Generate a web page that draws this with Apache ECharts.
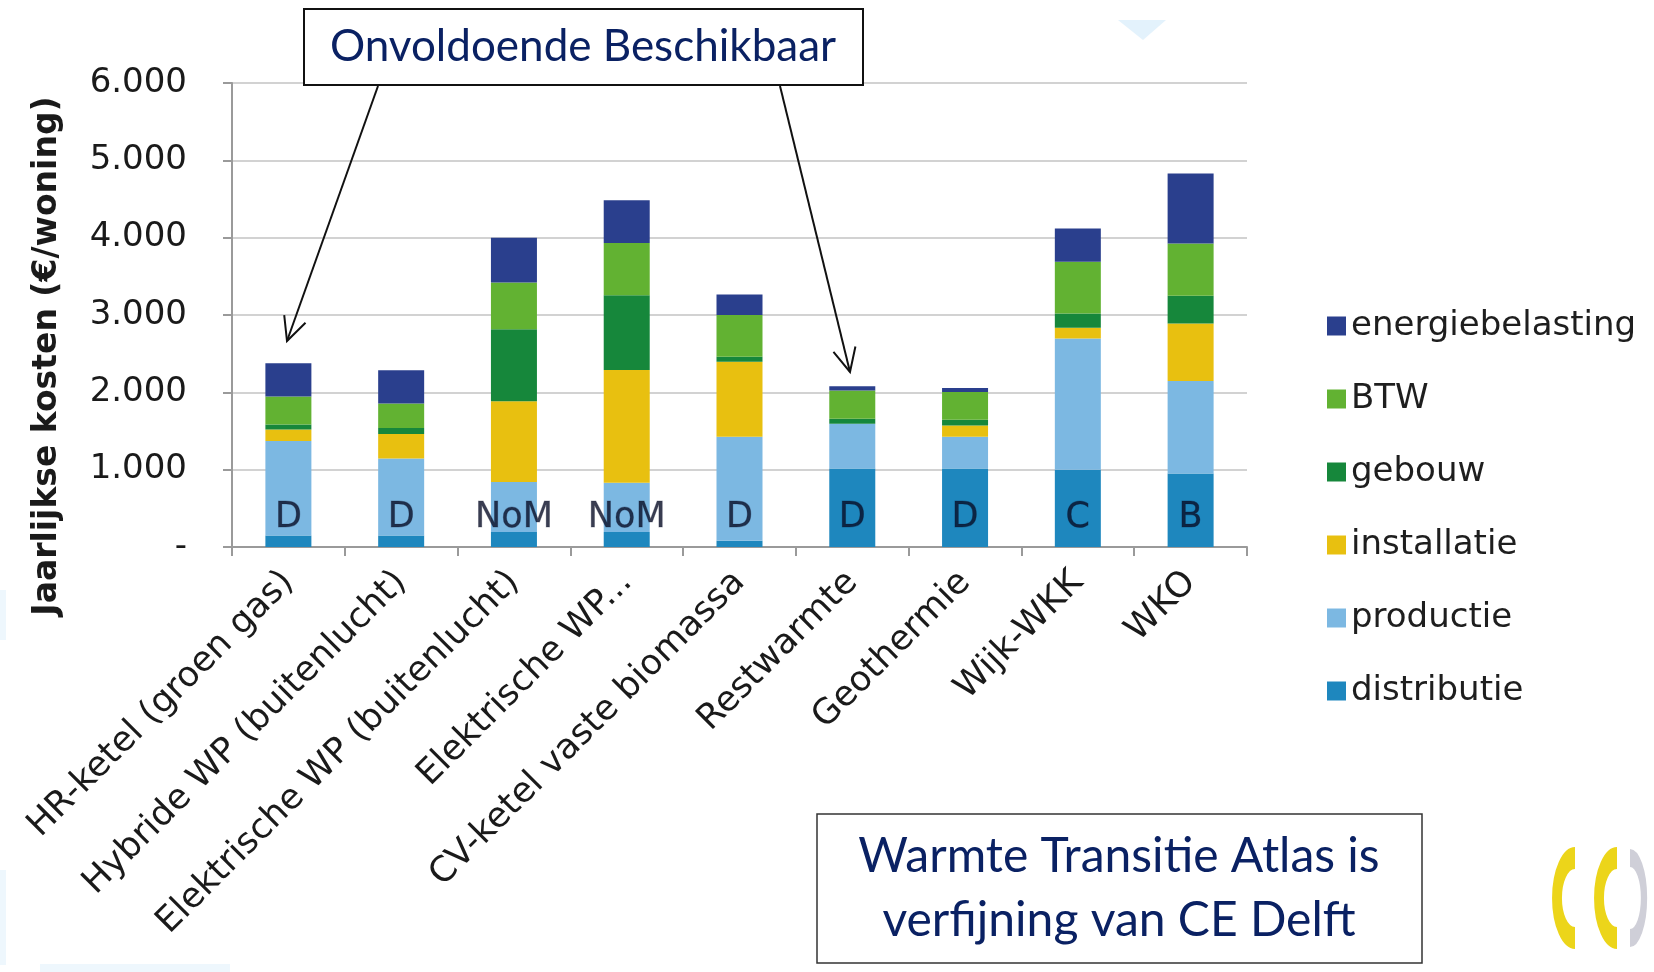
<!DOCTYPE html>
<html>
<head>
<meta charset="utf-8">
<script src="https://cdn.jsdelivr.net/npm/echarts@6/dist/echarts.min.js"></script>
<style>html,body{margin:0;padding:0;background:#fff}#c{width:1654px;height:972px}</style>
</head>
<body>
<div id="c"></div>
<script>
const categories = ['HR-ketel (groen gas)','Hybride WP (buitenlucht)','Elektrische WP (buitenlucht)','Elektrische WP...','CV-ketel vaste biomassa','Restwarmte','Geothermie','Wijk-WKK','WKO'];
const distributie      = [150, 150, 195, 195,   80, 1015, 1015, 1000,  950];
const productie        = [1220, 995, 645, 635, 1345, 580,  410, 1695, 1195];
const installatie      = [150, 315, 1045, 1460, 970,   0,  145,  140,  745];
const gebouw           = [65,   80,  930,  965,  65,  65,   75,  185,  360];
const btw              = [360, 315,  605,  675, 540, 365,  360,  670,  675];
const energiebelasting = [430, 430,  580,  555, 265,  55,   50,  430,  905];
const ratingLabels = ['D','D','NoM','NoM','D','D','D','C','B'];
const yTicks = [0, 1000, 2000, 3000, 4000, 5000, 6000];

const colors = {
  distributie: '#1e87be', productie: '#7cb8e2', installatie: '#e8c010',
  gebouw: '#16873b', BTW: '#62b232', energiebelasting: '#2a3f8d'
};
const labelY = 375;
const baseFont = 'DejaVu Sans';

const chart = echarts.init(document.getElementById('c'));
function mk(name, data) {
  return { name, type: 'bar', stack: 'tot', data, barWidth: 46,
    itemStyle: { color: colors[name] }, emphasis: { disabled: true } };
}
const fmt = v => v === 0 ? '-' : (v / 1000).toFixed(0) + '.' + String(v % 1000).padStart(3, '0');

chart.setOption({
  animation: false,
  backgroundColor: '#fff',
  grid: { left: 232, right: 407, top: 83, bottom: 425, containLabel: false },
  legend: {
    orient: 'vertical', left: 1322, top: 304, itemWidth: 19, itemHeight: 19, itemGap: 39,
    icon: 'rect',
    data: ['energiebelasting','BTW','gebouw','installatie','productie','distributie'],
    textStyle: { fontFamily: baseFont, fontSize: 34, color: '#1e1e1e', padding: [0,0,0,0] },
    selectedMode: false
  },
  xAxis: {
    type: 'category', data: categories,
    axisLine: { lineStyle: { color: '#9a9a9a', width: 2 } },
    axisTick: { show: true, length: 9, lineStyle: { color: '#9a9a9a', width: 2 } },
    axisLabel: { rotate: 45, interval: 0, margin: 30, fontFamily: baseFont, fontSize: 35, color: '#1a1a1a' }
  },
  yAxis: {
    type: 'value', min: 0, max: 6000, interval: 1000,
    axisLine: { show: true, lineStyle: { color: '#9a9a9a', width: 2 } },
    axisTick: { show: true, length: 9, lineStyle: { color: '#9a9a9a', width: 2 } },
    splitLine: { lineStyle: { color: '#d2d2d2', width: 2 } },
    axisLabel: { formatter: fmt, margin: 45, fontFamily: baseFont, fontSize: 34, color: '#1a1a1a' }
  },
  series: [
    mk('distributie', distributie), mk('productie', productie), mk('installatie', installatie),
    mk('gebouw', gebouw), mk('BTW', btw), mk('energiebelasting', energiebelasting),
    { type: 'scatter', symbolSize: 0, silent: true, z: 10,
      data: ratingLabels.map((t, i) => [i, labelY]),
      label: { show: true, position: 'inside', formatter: p => ratingLabels[p.dataIndex],
        fontFamily: baseFont, fontSize: 35, color: '#080c26',
        textBorderColor: 'rgba(8,12,38,0.35)', textBorderWidth: 0.8 } }
  ],
  graphic: (function () {
    const g = [];
    g.push({ type: 'text', x: 47, y: 356, rotation: Math.PI / 2, z: 20,
      style: { text: 'Jaarlijkse kosten (€/woning)', font: 'bold 33px "DejaVu Sans"', fill: '#1a1a1a',
        textAlign: 'center', textVerticalAlign: 'middle' } });
    g.push({ type: 'rect', shape: { x: 304, y: 9, width: 559, height: 76 }, z: 20,
      style: { fill: '#fff', stroke: '#111', lineWidth: 2 } });
    g.push({ type: 'text', x: 583, y: 47, z: 21,
      style: { text: 'Onvoldoende Beschikbaar', font: '44px Lato', fill: '#0a2163',
        textAlign: 'center', textVerticalAlign: 'middle' } });
    function arrow(x1, y1, x2, y2) {
      const a = Math.atan2(y2 - y1, x2 - x1), L = 26, s = 0.45;
      g.push({ type: 'line', z: 20, shape: { x1, y1, x2, y2 }, style: { stroke: '#111', lineWidth: 2 } });
      g.push({ type: 'polyline', z: 20, shape: { points: [
        [x2 - L * Math.cos(a - s), y2 - L * Math.sin(a - s)], [x2, y2],
        [x2 - L * Math.cos(a + s), y2 - L * Math.sin(a + s)] ] },
        style: { stroke: '#111', lineWidth: 2, fill: null } });
    }
    arrow(378, 86, 287, 341);
    arrow(780, 86, 850, 372);
    g.push({ type: 'rect', shape: { x: 817, y: 814, width: 605, height: 149 }, z: 20,
      style: { fill: '#fff', stroke: '#333', lineWidth: 1.5 } });
    g.push({ type: 'text', x: 1119, y: 857, z: 21,
      style: { text: 'Warmte Transitie Atlas is', font: '48px Lato', fill: '#0a2163',
        textAlign: 'center', textVerticalAlign: 'middle' } });
    g.push({ type: 'text', x: 1119, y: 921, z: 21,
      style: { text: 'verfijning van CE Delft', font: '48px Lato', fill: '#0a2163',
        textAlign: 'center', textVerticalAlign: 'middle' } });
    g.push({ type: 'polygon', z: 1, shape: { points: [[1118, 20], [1166, 20], [1143, 40]] },
      style: { fill: '#e3f2fc' } });
    g.push({ type: 'rect', z: 1, shape: { x: 0, y: 590, width: 6, height: 50 }, style: { fill: '#eef7fd' } });
    g.push({ type: 'rect', z: 1, shape: { x: 0, y: 870, width: 6, height: 95 }, style: { fill: '#eef7fd' } });
    g.push({ type: 'rect', z: 1, shape: { x: 40, y: 964, width: 190, height: 8 }, style: { fill: '#eef7fd' } });
    g.push({ type: 'arc', z: 5, x: 1575, y: 898, scaleX: 0.45, shape: { cx: 0, cy: 0, r: 40, startAngle: Math.PI * 0.5, endAngle: Math.PI * 1.5 },
      style: { stroke: '#ecd51a', lineWidth: 22, fill: null } });
    g.push({ type: 'arc', z: 5, x: 1617, y: 898, scaleX: 0.45, shape: { cx: 0, cy: 0, r: 40, startAngle: Math.PI * 0.5, endAngle: Math.PI * 1.5 },
      style: { stroke: '#ecd51a', lineWidth: 22, fill: null } });
    g.push({ type: 'arc', z: 5, x: 1630, y: 898, scaleX: 0.35, shape: { cx: 0, cy: 0, r: 40, startAngle: -Math.PI * 0.5, endAngle: Math.PI * 0.5 },
      style: { stroke: '#cfcfd8', lineWidth: 18, fill: null } });
    return g;
  })()
});
</script>
</body>
</html>
